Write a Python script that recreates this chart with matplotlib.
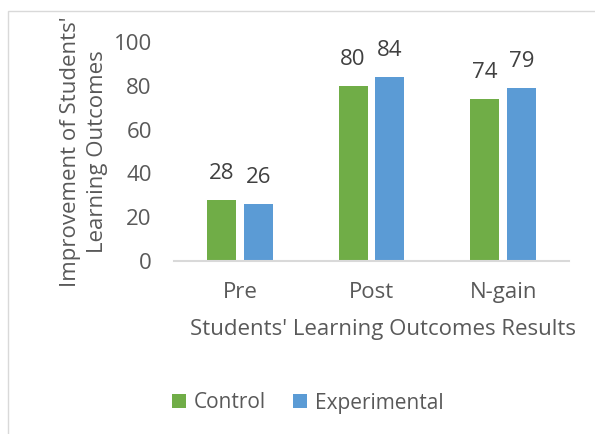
import matplotlib.pyplot as plt
import matplotlib.patches as mpatches
import numpy as np

categories = ["Pre", "Post", "N-gain"]
control = [28, 80, 74]
experimental = [26, 84, 79]

GREEN = "#70AD47"
BLUE = "#5B9BD5"
TEXT = "#595959"
FS = 16

plt.rcParams["font.family"] = ["Open Sans", "DejaVu Sans"]

fig = plt.figure(figsize=(5.95, 4.34), dpi=100)
fig.patch.set_facecolor("white")
fig.patches.append(mpatches.Rectangle((8 / 595, -0.1), 1.2, (434 - 11) / 434 + 0.1,
                                      transform=fig.transFigure, fill=False,
                                      edgecolor="#D9D9D9", linewidth=1))

ax = fig.add_axes([174 / 595, 173 / 434, 395 / 595, 219 / 434])
x = np.arange(len(categories))
w = 0.22
off = 0.14
b1 = ax.bar(x - off, control, w, color=GREEN, label="Control")
b2 = ax.bar(x + off, experimental, w, color=BLUE, label="Experimental")

for bars, vals in ((b1, control), (b2, experimental)):
    for rect, v in zip(bars, vals):
        ax.annotate(str(v), (rect.get_x() + rect.get_width() / 2, v),
                    xytext=(0, 19), textcoords="offset points",
                    ha="center", va="center", fontsize=FS, color="#404040")

ax.set_xlim(-0.5, 2.5)
ax.set_ylim(0, 100)
ax.set_yticks(range(0, 101, 20))
ax.set_xticks(x)
ax.set_xticklabels(categories)
ax.tick_params(axis="both", length=0, labelsize=FS, labelcolor=TEXT)
ax.tick_params(axis="y", pad=16)
ax.tick_params(axis="x", pad=15)
for s in ("top", "right", "left"):
    ax.spines[s].set_visible(False)
ax.spines["bottom"].set_color("#D9D9D9")
ax.spines["bottom"].set_linewidth(1.5)

ax.set_xlabel("Students' Learning Outcomes Results", fontsize=FS, color=TEXT)
ax.xaxis.set_label_coords(0.53, -0.265)
ax.set_ylabel("Improvement of Students'\nLearning Outcomes", fontsize=FS, color=TEXT,
              labelpad=4, linespacing=1.35)

fig.legend(handles=[b1, b2], loc="center", bbox_to_anchor=(308 / 595, 1 - 403 / 434),
           ncol=2, frameon=False, fontsize=15, labelcolor=TEXT,
           handlelength=0.65, handleheight=0.65, handletextpad=0.4, columnspacing=1.3)

fig.savefig("out.png", dpi=100)
